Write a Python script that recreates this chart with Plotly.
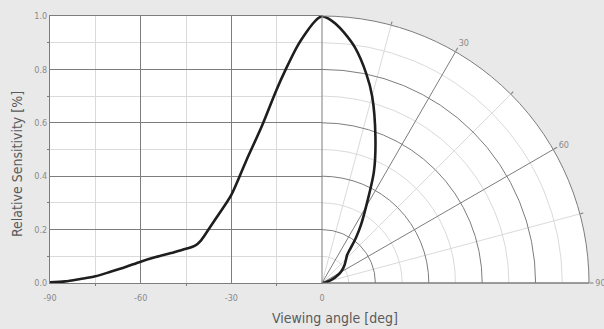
import plotly.graph_objects as go

# Data
angles = [-90, -85, -80, -75, -70, -65, -60, -55, -50, -45, -42, -40, -37, -34,
          -30, -25, -20, -15, -12, -8, -5, -3, -1.5, 0]
sens = [0.003, 0.006, 0.015, 0.025, 0.042, 0.06, 0.08, 0.097, 0.112, 0.128, 0.14,
        0.16, 0.21, 0.26, 0.33, 0.46, 0.585, 0.725, 0.8, 0.89, 0.942, 0.972, 0.99, 1.0]
polar_theta = [-a for a in angles]

x_ticks = [-90, -60, -30, 0]
x_ticktext = ['-90', '-60', '-30', '0']
x_minor = [-75, -45, -15]
y_ticks = [0.0, 0.2, 0.4, 0.6, 0.8, 1.0]
y_ticktext = ['0.0', '0.2', '0.4', '0.6', '0.8', '1.0']
y_minor = [0.1, 0.3, 0.5, 0.7, 0.9]
ang_major = [30, 60, 90]
ang_major_text = ['30', '60', '90']
ang_minor = [15, 45, 75]
rad_major = [0.2, 0.4, 0.6, 0.8]
rad_minor = [0.1, 0.3, 0.5, 0.7, 0.9]

DARK = '#7d7d7d'
LIGHT = '#dadada'
BG = '#e9e9e9'
FONT = 'DejaVu Sans Condensed, Liberation Sans Narrow, sans-serif'
tickfont = dict(family=FONT, size=9, color='#8a8a8a')
titlefont = dict(family=FONT, size=14, color='#5a5a5a')

W, H = 604, 329
ml, mr, mt, mb = 50, 15, 16, 46
pw = W - ml - mr
ph = H - mt - mb
xdom = 272 / pw

fig = go.Figure()
fig.add_trace(go.Scatter(x=angles, y=sens, mode='lines',
                         line=dict(color='#1e1e1e', width=2.6, shape='spline', smoothing=0.8),
                         xaxis='x', yaxis='y', hoverinfo='skip'))
# invisible trace so the light-grid polar subplot is rendered
fig.add_trace(go.Scatterpolar(r=[0], theta=[0], mode='markers', marker=dict(opacity=0),
                              subplot='polar', hoverinfo='skip'))
fig.add_trace(go.Scatterpolar(r=sens, theta=polar_theta, mode='lines',
                              line=dict(color='#1e1e1e', width=2.6, shape='spline', smoothing=0.8),
                              subplot='polar2', hoverinfo='skip'))

fig.update_layout(
    width=W, height=H,
    margin=dict(l=ml, r=mr, t=mt, b=mb),
    paper_bgcolor=BG, plot_bgcolor='white', showlegend=False,
    xaxis=dict(domain=[0, xdom], range=[-90, 0], tickvals=x_ticks, ticktext=x_ticktext,
               showgrid=True, gridcolor=DARK, gridwidth=1, zeroline=False,
               showline=True, linecolor=DARK, mirror=True, ticks='',
               tickfont=tickfont, ticklabelstandoff=6,
               minor=dict(tickvals=x_minor, showgrid=True, gridcolor=LIGHT,
                          ticks='outside', ticklen=2, tickcolor=DARK)),
    yaxis=dict(domain=[0, 1], range=[0, 1], tickvals=y_ticks, ticktext=y_ticktext,
               showgrid=True, gridcolor=DARK, gridwidth=1, zeroline=False,
               showline=True, linecolor=DARK, mirror=True, ticks='',
               tickfont=tickfont,
               minor=dict(tickvals=y_minor, showgrid=True, gridcolor=LIGHT,
                          ticks='outside', ticklen=2, tickcolor=DARK)),
    polar=dict(domain=dict(x=[xdom, 1], y=[0, 1]), sector=[0, 90], bgcolor='white',
               angularaxis=dict(rotation=90, direction='clockwise', tickvals=ang_minor,
                                showticklabels=False, ticks='outside', ticklen=3,
                                tickcolor=DARK, gridcolor=LIGHT, showline=False),
               radialaxis=dict(range=[0, 1], tickvals=rad_minor, showticklabels=False,
                               ticks='', gridcolor=LIGHT, showline=False)),
    polar2=dict(domain=dict(x=[xdom, 1], y=[0, 1]), sector=[0, 90],
                bgcolor='rgba(0,0,0,0)',
                angularaxis=dict(rotation=90, direction='clockwise', tickvals=ang_major,
                                 ticktext=ang_major_text, ticks='outside', ticklen=4,
                                 tickcolor=DARK, gridcolor=DARK, showline=True,
                                 linecolor=DARK, tickfont=tickfont),
                radialaxis=dict(range=[0, 1], tickvals=rad_major, showticklabels=False,
                                ticks='', gridcolor=DARK, showline=False)),
    annotations=[
        dict(text='Relative Sensitivity [%]', xref='paper', yref='paper',
             x=(17 - ml) / pw, y=(283 - 164) / ph, textangle=-90, showarrow=False,
             xanchor='center', yanchor='middle', font=titlefont),
        dict(text='Viewing angle [deg]', xref='paper', yref='paper',
             x=(335 - ml) / pw, y=(283 - 318) / ph, showarrow=False,
             xanchor='center', yanchor='middle', font=titlefont),
    ],
)

fig.write_html('out.html', config={'displayModeBar': False},
               post_script="document.body.style.margin='0';document.body.style.background='%s';" % BG)
